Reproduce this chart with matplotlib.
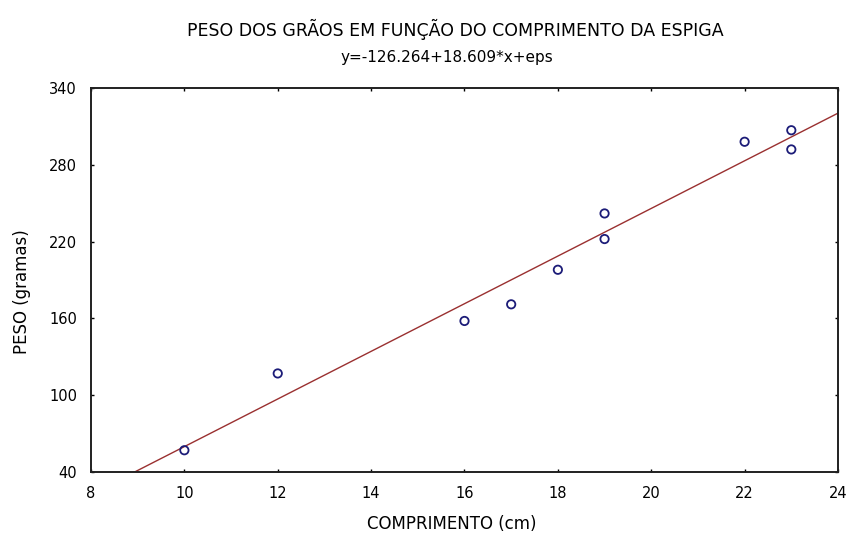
import numpy as np
import matplotlib
matplotlib.use("Agg")
import matplotlib.pyplot as plt

# Comprimento da espiga (cm) e peso dos grãos (g)
comprimento = [10, 12, 16, 17, 18, 19, 19, 22, 23, 23]
peso = [57, 117, 158, 171, 198, 242, 222, 298, 307, 292]

# Coeficientes do ajuste linear
intercepto = -126.264
inclinacao = 18.609

x_ticks = [8, 10, 12, 14, 16, 18, 20, 22, 24]
y_ticks = [40, 100, 160, 220, 280, 340]

plt.rcParams["font.family"] = ["DejaVu Sans"]

fig = plt.figure(figsize=(8.48, 5.34), dpi=100)
ax = fig.add_axes([0.1073, 0.1161, 0.8809, 0.7191])

xs = np.array([8.0, 24.0])
ax.plot(xs, intercepto + inclinacao * xs, color="#9a3030", lw=1.0, zorder=2)
ax.scatter(comprimento, peso, s=36, facecolors="none", edgecolors="#1c1c78",
           linewidths=1.3, zorder=3)

ax.set_xlim(8, 24)
ax.set_ylim(40, 340)
ax.set_xticks(x_ticks)
ax.set_yticks(y_ticks)
ax.tick_params(direction="in", length=2, width=1, top=True, right=True,
               labelsize=10.5, pad=10)
for s in ax.spines.values():
    s.set_linewidth(1.4)
    s.set_color("#202020")

ax.set_xlabel("COMPRIMENTO (cm)", fontsize=12)
ax.set_ylabel("PESO (gramas)", fontsize=12)
ax.xaxis.set_label_coords(0.483, -0.112)
ax.yaxis.set_label_coords(-0.080, 0.471)

fig.text(0.537, 0.944, "PESO DOS GRÃOS EM FUNÇÃO DO COMPRIMENTO DA ESPIGA",
         ha="center", va="center", fontsize=12.5)
fig.text(0.527, 0.893, "y=-126.264+18.609*x+eps", ha="center", va="center",
         fontsize=11)

fig.savefig("out.png", dpi=100)
